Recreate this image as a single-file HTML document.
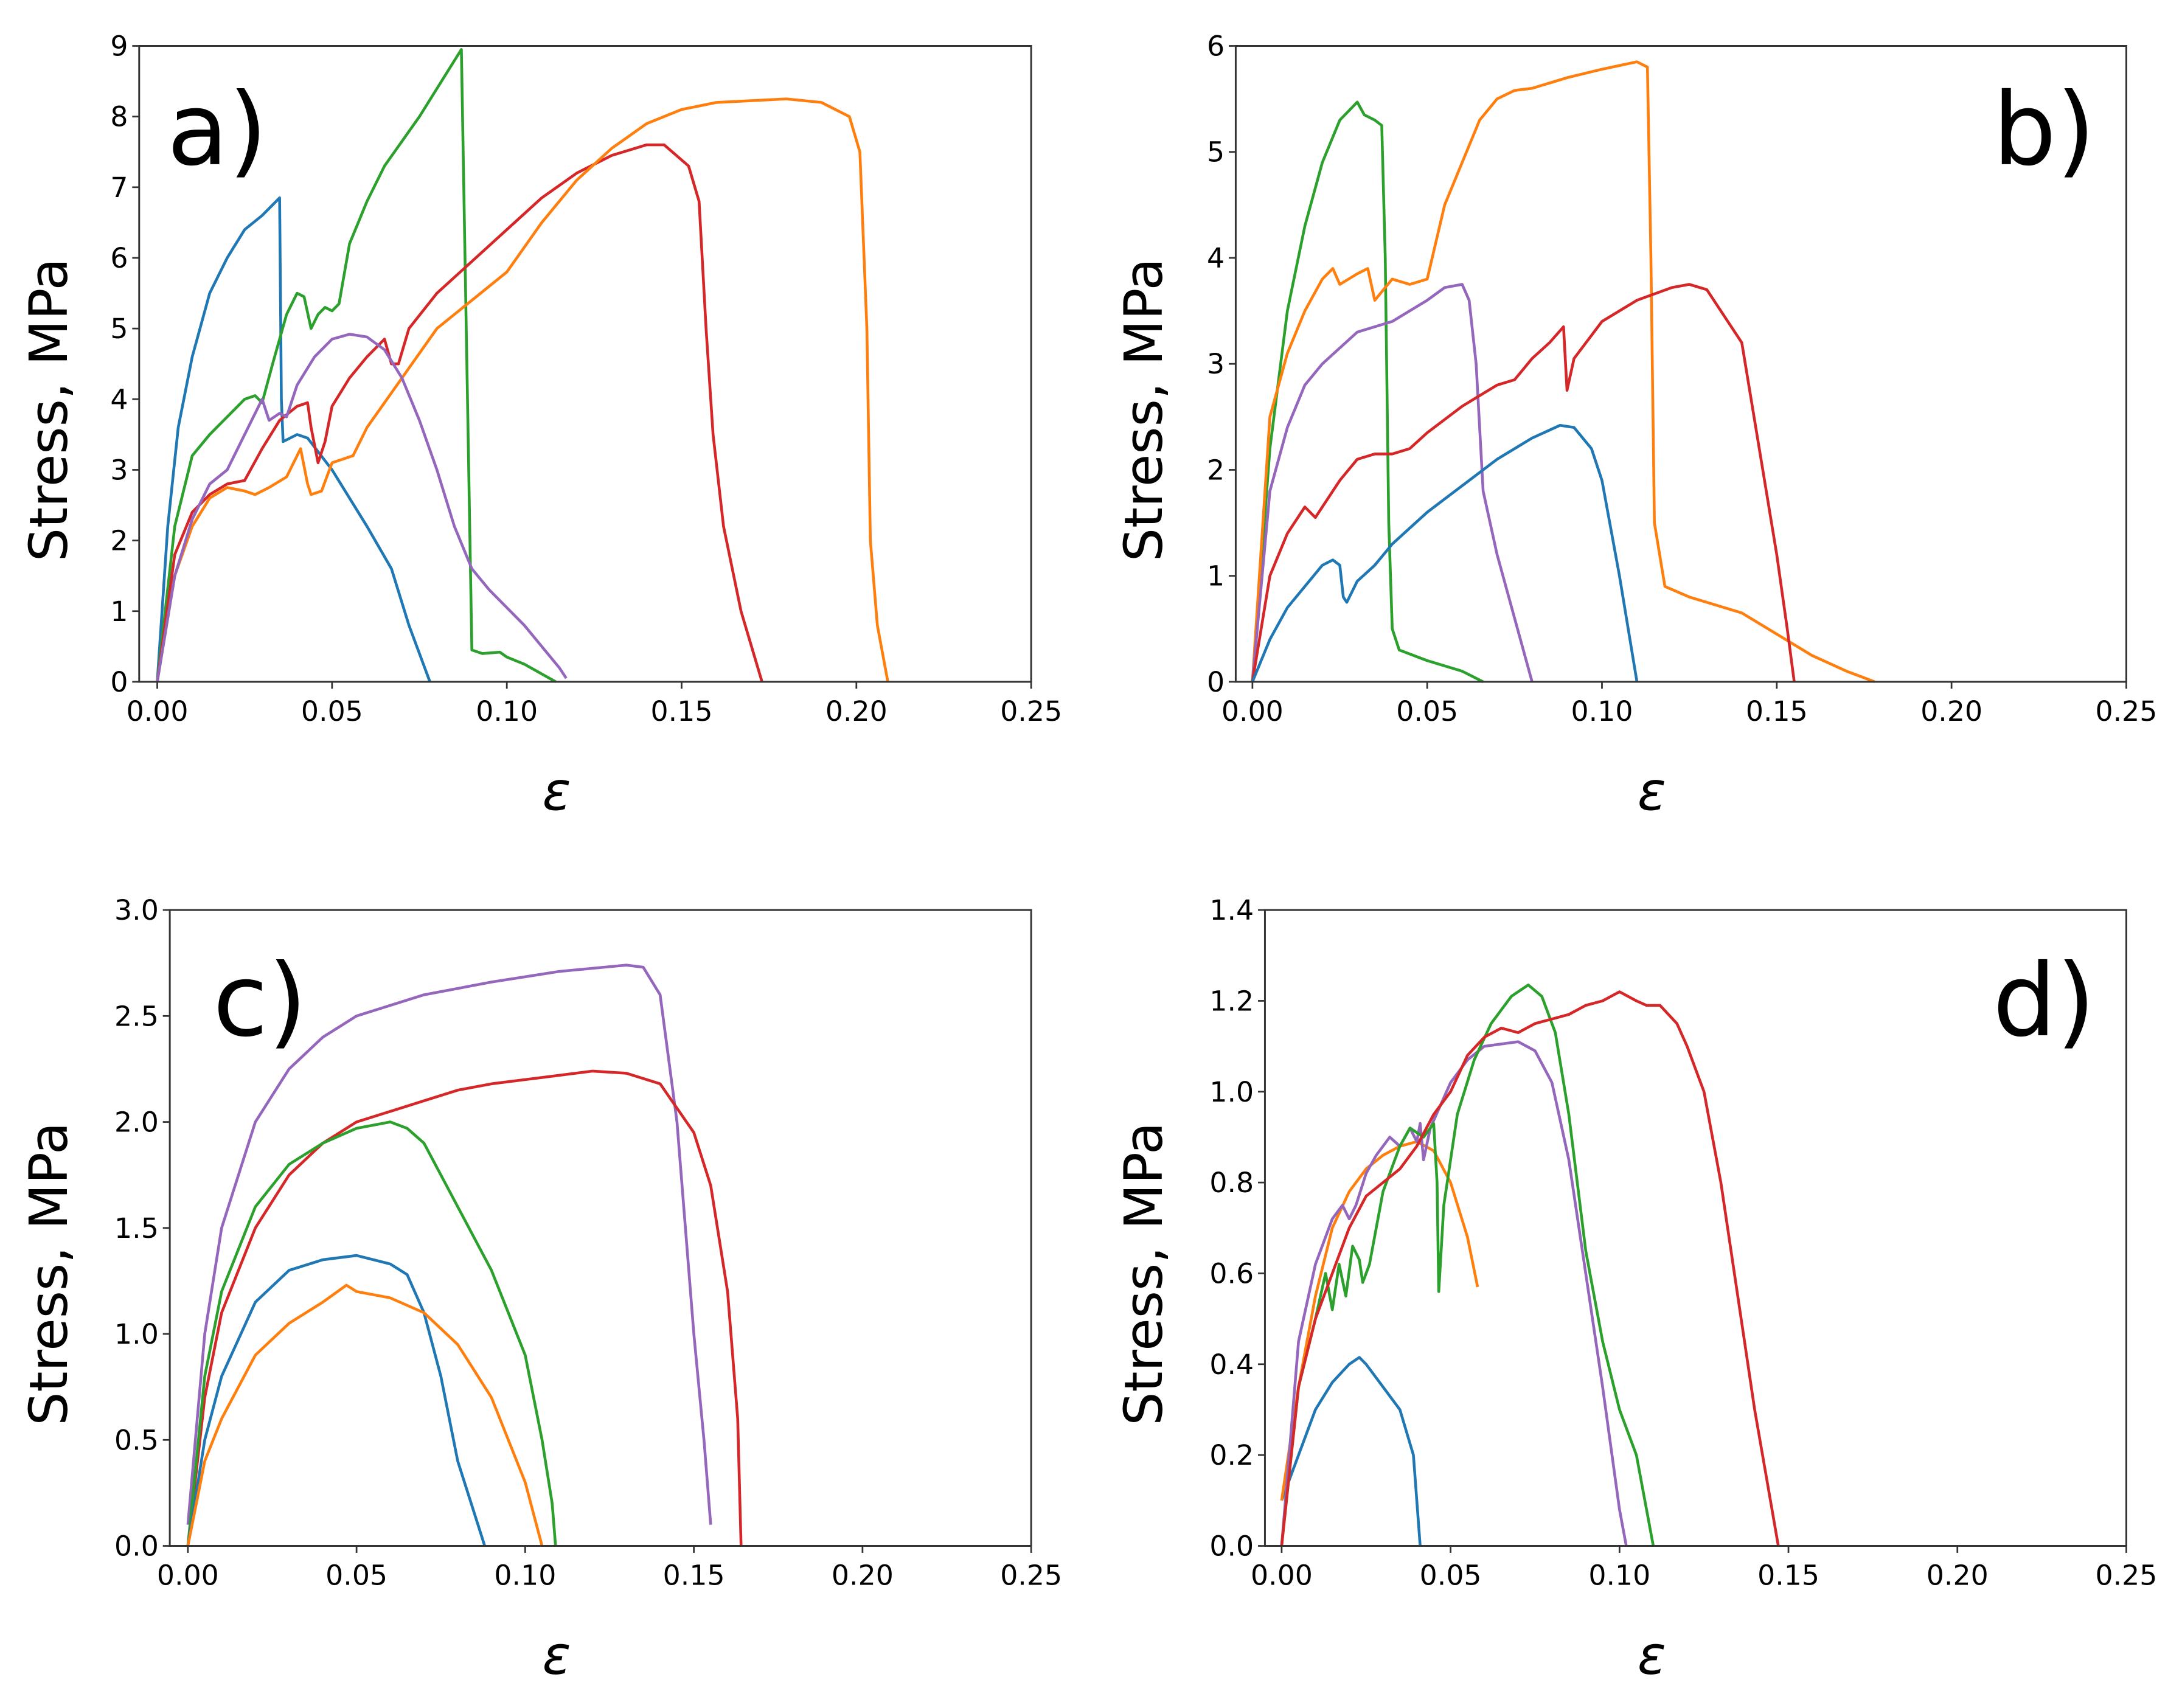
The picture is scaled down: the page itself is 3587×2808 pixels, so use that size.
<!DOCTYPE html>
<html><head><meta charset="utf-8"><style>
html,body{margin:0;padding:0;background:#fff;}
svg{display:block;}
text{font-family:"DejaVu Sans","Liberation Sans",sans-serif;fill:#000;}
</style></head><body>
<svg id="fig" width="3587" height="2808" viewBox="0 0 1568 1227.5" xmlns="http://www.w3.org/2000/svg"></svg>
<script>
const xTickVals = [0, 0.05, 0.10, 0.15, 0.20, 0.25];
const xTickLabels = ["0.00","0.05","0.10","0.15","0.20","0.25"];
const yTicksA = [0,1,2,3,4,5,6,7,8,9];
const yTicksB = [0,1,2,3,4,5,6];
const yTicksC = [0,0.5,1,1.5,2,2.5,3];
const yTicksD = [0,0.2,0.4,0.6,0.8,1.0,1.2,1.4];
const yLabelsC = ["0.0","0.5","1.0","1.5","2.0","2.5","3.0"];
const yLabelsD = ["0.0","0.2","0.4","0.6","0.8","1.0","1.2","1.4"];

// Panel a
const aBlue = [[0,0],[0.003,2.2],[0.006,3.6],[0.01,4.6],[0.015,5.5],[0.02,6.0],[0.025,6.4],[0.03,6.6],[0.035,6.85],[0.0355,4],[0.036,3.4],[0.04,3.5],[0.043,3.45],[0.05,3.0],[0.06,2.2],[0.067,1.6],[0.072,0.8],[0.078,0]];
const aGreen = [[0,0],[0.005,2.2],[0.01,3.2],[0.015,3.5],[0.02,3.75],[0.025,4.0],[0.028,4.05],[0.03,3.95],[0.033,4.5],[0.037,5.2],[0.04,5.5],[0.042,5.45],[0.044,5.0],[0.046,5.2],[0.048,5.3],[0.05,5.25],[0.052,5.35],[0.055,6.2],[0.06,6.8],[0.065,7.3],[0.075,8.0],[0.087,8.95],[0.09,0.45],[0.093,0.4],[0.098,0.42],[0.1,0.35],[0.105,0.25],[0.114,0]];
const aRed = [[0,0],[0.005,1.8],[0.01,2.4],[0.015,2.65],[0.02,2.8],[0.025,2.85],[0.03,3.3],[0.035,3.7],[0.04,3.9],[0.043,3.95],[0.044,3.6],[0.046,3.1],[0.048,3.4],[0.05,3.9],[0.055,4.3],[0.06,4.6],[0.065,4.85],[0.067,4.5],[0.069,4.5],[0.072,5.0],[0.08,5.5],[0.09,5.95],[0.1,6.4],[0.11,6.85],[0.12,7.2],[0.13,7.45],[0.14,7.6],[0.145,7.6],[0.152,7.3],[0.155,6.8],[0.157,5.0],[0.159,3.5],[0.162,2.2],[0.167,1.0],[0.173,0]];
const aOrange = [[0,0],[0.005,1.5],[0.01,2.2],[0.015,2.6],[0.02,2.75],[0.025,2.7],[0.028,2.65],[0.032,2.75],[0.037,2.9],[0.041,3.3],[0.043,2.8],[0.044,2.65],[0.047,2.7],[0.05,3.1],[0.053,3.15],[0.056,3.2],[0.06,3.6],[0.07,4.3],[0.08,5.0],[0.09,5.4],[0.1,5.8],[0.11,6.5],[0.12,7.1],[0.13,7.55],[0.14,7.9],[0.15,8.1],[0.16,8.2],[0.18,8.25],[0.19,8.2],[0.198,8.0],[0.201,7.5],[0.203,5.0],[0.204,2.0],[0.206,0.8],[0.209,0]];
const aPurple = [[0,0],[0.005,1.5],[0.01,2.3],[0.015,2.8],[0.02,3.0],[0.025,3.5],[0.03,4.0],[0.032,3.7],[0.035,3.8],[0.037,3.75],[0.04,4.2],[0.045,4.6],[0.05,4.85],[0.055,4.92],[0.06,4.88],[0.065,4.7],[0.07,4.3],[0.075,3.7],[0.08,3.0],[0.085,2.2],[0.09,1.6],[0.095,1.3],[0.1,1.05],[0.105,0.8],[0.11,0.5],[0.115,0.2],[0.117,0.05]];

// Panel b
const bGreen = [[0,0],[0.005,2.2],[0.01,3.5],[0.015,4.3],[0.02,4.9],[0.025,5.3],[0.03,5.47],[0.032,5.35],[0.035,5.3],[0.037,5.25],[0.038,4],[0.039,1.5],[0.04,0.5],[0.042,0.3],[0.05,0.2],[0.06,0.1],[0.066,0]];
const bOrange = [[0,0],[0.005,2.5],[0.01,3.1],[0.015,3.5],[0.02,3.8],[0.023,3.9],[0.025,3.75],[0.03,3.85],[0.033,3.9],[0.035,3.6],[0.04,3.8],[0.045,3.75],[0.05,3.8],[0.055,4.5],[0.06,4.9],[0.065,5.3],[0.07,5.5],[0.075,5.58],[0.08,5.6],[0.09,5.7],[0.1,5.78],[0.11,5.85],[0.113,5.8],[0.114,4.0],[0.115,1.5],[0.118,0.9],[0.125,0.8],[0.14,0.65],[0.15,0.45],[0.16,0.25],[0.17,0.1],[0.178,0]];
const bPurple = [[0,0],[0.005,1.8],[0.01,2.4],[0.015,2.8],[0.02,3.0],[0.03,3.3],[0.04,3.4],[0.05,3.6],[0.055,3.72],[0.06,3.75],[0.062,3.6],[0.064,3.0],[0.066,1.8],[0.07,1.2],[0.075,0.6],[0.08,0]];
const bRed = [[0,0],[0.005,1.0],[0.01,1.4],[0.015,1.65],[0.018,1.55],[0.022,1.75],[0.025,1.9],[0.03,2.1],[0.035,2.15],[0.04,2.15],[0.045,2.2],[0.05,2.35],[0.06,2.6],[0.07,2.8],[0.075,2.85],[0.08,3.05],[0.085,3.2],[0.089,3.35],[0.09,2.75],[0.092,3.05],[0.1,3.4],[0.11,3.6],[0.12,3.72],[0.125,3.75],[0.13,3.7],[0.14,3.2],[0.145,2.2],[0.15,1.2],[0.153,0.5],[0.155,0]];
const bBlue = [[0,0],[0.005,0.4],[0.01,0.7],[0.015,0.9],[0.02,1.1],[0.023,1.15],[0.025,1.1],[0.026,0.8],[0.027,0.75],[0.03,0.95],[0.035,1.1],[0.04,1.3],[0.05,1.6],[0.06,1.85],[0.07,2.1],[0.08,2.3],[0.088,2.42],[0.092,2.4],[0.097,2.2],[0.1,1.9],[0.105,1.0],[0.11,0]];

// Panel c
const cPurple = [[0,0.1],[0.005,1.0],[0.01,1.5],[0.02,2.0],[0.03,2.25],[0.04,2.4],[0.05,2.5],[0.07,2.6],[0.09,2.66],[0.11,2.71],[0.13,2.74],[0.135,2.73],[0.14,2.6],[0.145,2.0],[0.15,1.0],[0.153,0.5],[0.155,0.1]];
const cRed = [[0,0],[0.005,0.7],[0.01,1.1],[0.02,1.5],[0.03,1.75],[0.04,1.9],[0.05,2.0],[0.06,2.05],[0.07,2.1],[0.08,2.15],[0.09,2.18],[0.1,2.2],[0.12,2.24],[0.13,2.23],[0.14,2.18],[0.15,1.95],[0.155,1.7],[0.16,1.2],[0.163,0.6],[0.164,0]];
const cGreen = [[0,0],[0.005,0.8],[0.01,1.2],[0.02,1.6],[0.03,1.8],[0.04,1.9],[0.05,1.97],[0.06,2.0],[0.065,1.97],[0.07,1.9],[0.08,1.6],[0.09,1.3],[0.1,0.9],[0.105,0.5],[0.108,0.2],[0.109,0]];
const cBlue = [[0,0],[0.005,0.5],[0.01,0.8],[0.02,1.15],[0.03,1.3],[0.04,1.35],[0.05,1.37],[0.06,1.33],[0.065,1.28],[0.07,1.1],[0.075,0.8],[0.08,0.4],[0.085,0.15],[0.088,0]];
const cOrange = [[0,0],[0.005,0.4],[0.01,0.6],[0.02,0.9],[0.03,1.05],[0.04,1.15],[0.047,1.23],[0.05,1.2],[0.06,1.17],[0.07,1.1],[0.08,0.95],[0.09,0.7],[0.1,0.3],[0.105,0]];

// Panel d
const dBlue = [[0,0.1],[0.005,0.2],[0.01,0.3],[0.015,0.36],[0.02,0.4],[0.023,0.415],[0.025,0.4],[0.03,0.35],[0.035,0.3],[0.039,0.2],[0.041,0]];
const dOrange = [[0,0.1],[0.005,0.35],[0.01,0.55],[0.015,0.7],[0.02,0.78],[0.025,0.83],[0.03,0.86],[0.035,0.88],[0.04,0.89],[0.045,0.87],[0.05,0.8],[0.055,0.68],[0.058,0.57]];
const dPurple = [[0,0],[0.005,0.45],[0.01,0.62],[0.015,0.72],[0.018,0.75],[0.02,0.72],[0.022,0.75],[0.025,0.82],[0.028,0.86],[0.032,0.9],[0.035,0.88],[0.038,0.92],[0.04,0.89],[0.041,0.93],[0.042,0.85],[0.044,0.92],[0.047,0.97],[0.05,1.02],[0.055,1.07],[0.06,1.1],[0.07,1.11],[0.075,1.09],[0.08,1.02],[0.085,0.85],[0.09,0.6],[0.095,0.35],[0.1,0.08],[0.102,0]];
const dGreen = [[0,0],[0.005,0.35],[0.01,0.5],[0.013,0.6],[0.015,0.52],[0.017,0.62],[0.019,0.55],[0.021,0.66],[0.023,0.63],[0.024,0.58],[0.026,0.62],[0.03,0.78],[0.035,0.88],[0.038,0.92],[0.042,0.9],[0.045,0.93],[0.046,0.8],[0.0465,0.56],[0.048,0.75],[0.052,0.95],[0.057,1.07],[0.062,1.15],[0.068,1.21],[0.073,1.235],[0.077,1.21],[0.081,1.13],[0.085,0.95],[0.09,0.65],[0.095,0.45],[0.1,0.3],[0.105,0.2],[0.11,0]];
const dRed = [[0,0],[0.005,0.35],[0.01,0.5],[0.015,0.6],[0.02,0.7],[0.025,0.77],[0.03,0.8],[0.035,0.83],[0.04,0.88],[0.045,0.95],[0.05,1.0],[0.055,1.08],[0.06,1.12],[0.065,1.14],[0.07,1.13],[0.075,1.15],[0.08,1.16],[0.085,1.17],[0.09,1.19],[0.095,1.2],[0.1,1.22],[0.105,1.2],[0.108,1.19],[0.112,1.19],[0.117,1.15],[0.12,1.1],[0.125,1.0],[0.13,0.8],[0.135,0.55],[0.14,0.3],[0.147,0]];

const C = {blue:"#1f77b4",orange:"#ff7f0e",green:"#2ca02c",red:"#d62728",purple:"#9467bd"};
const NS = "http://www.w3.org/2000/svg";
const svg = document.getElementById('fig');

function mk(tag, attrs, parent){
  const e = document.createElementNS(NS, tag);
  for (const k in attrs) e.setAttribute(k, attrs[k]);
  (parent||svg).appendChild(e);
  return e;
}

const panels = [
  {id:"a", L:100, R:741, T:33, B:490, x0:113, ymax:9, yt:yTicksA, yl:yTicksA.map(String), labX:35, epsX:400, let:"a)", letX:120, letY:118,
   series:[["blue",aBlue],["green",aGreen],["red",aRed],["orange",aOrange],["purple",aPurple]]},
  {id:"b", L:888, R:1528, T:33, B:490, x0:900, ymax:6, yt:yTicksB, yl:yTicksB.map(String), labX:822, epsX:1187, let:"b)", letX:1432, letY:118,
   series:[["green",bGreen],["orange",bOrange],["purple",bPurple],["red",bRed],["blue",bBlue]]},
  {id:"c", L:122, R:741, T:654, B:1111, x0:135, ymax:3, yt:yTicksC, yl:yLabelsC, labX:35, epsX:400, let:"c)", letX:153, letY:744,
   series:[["purple",cPurple],["red",cRed],["green",cGreen],["blue",cBlue],["orange",cOrange]]},
  {id:"d", L:909, R:1528, T:654, B:1111, x0:921, ymax:1.4, yt:yTicksD, yl:yLabelsD, labX:822, epsX:1187, let:"d)", letX:1432, letY:744,
   series:[["blue",dBlue],["orange",dOrange],["purple",dPurple],["green",dGreen],["red",dRed]]}
];

panels.forEach(p => {
  const g = mk('g', {});
  
  
  const xs = v => p.x0 + v / 0.25 * (p.R - p.x0);
  const ys = v => p.B - v / p.ymax * (p.B - p.T);

  p.series.forEach(([col, data]) => {
    const d = data.map((pt,i) => (i?'L':'M') + xs(pt[0]).toFixed(2) + ' ' + ys(pt[1]).toFixed(2)).join(' ');
    const path = mk('path', {d:d, fill:'none', stroke:C[col], 'stroke-width':2, 'stroke-linejoin':'round'}, g);
    
    
  });

  const fr = mk('rect', {x:p.L, y:p.T, width:p.R-p.L, height:p.B-p.T, fill:'none', stroke:'#333', 'stroke-width':1.3}, g);
  
  

  xTickVals.forEach((v,i) => {
    const x = xs(v);
    mk('line', {x1:x, x2:x, y1:p.B, y2:p.B+5, stroke:'#333', 'stroke-width':1.2}, g);
    const t = mk('text', {x:x, y:p.B+28, 'text-anchor':'middle', 'font-size':20}, g);
    t.textContent = xTickLabels[i];
    
    
  });
  p.yt.forEach((v,i) => {
    const y = ys(v);
    mk('line', {x1:p.L-5, x2:p.L, y1:y, y2:y, stroke:'#333', 'stroke-width':1.2}, g);
    const t = mk('text', {x:p.L-8, y:y+7, 'text-anchor':'end', 'font-size':20}, g);
    t.textContent = p.yl[i];
    
    
  });
  const yt = mk('text', {x:0, y:0, 'text-anchor':'middle', 'font-size':38, transform:'translate(' + (p.labX+13) + ',' + ((p.T+p.B)/2 + 33) + ') rotate(-90)'}, g);
  yt.textContent = 'Stress, MPa';
  
  
  const xt = mk('text', {x:p.epsX, y:p.B+92, 'text-anchor':'middle', 'font-size':38, 'font-style':'italic', 'font-family':'"DejaVu Serif","Liberation Serif",serif'}, g);
  xt.textContent = 'ε';
  
  
  const lt = mk('text', {x:p.letX, y:p.letY, 'font-size':72}, g);
  lt.textContent = p.let;
  
  
});
</script>
</body></html>
